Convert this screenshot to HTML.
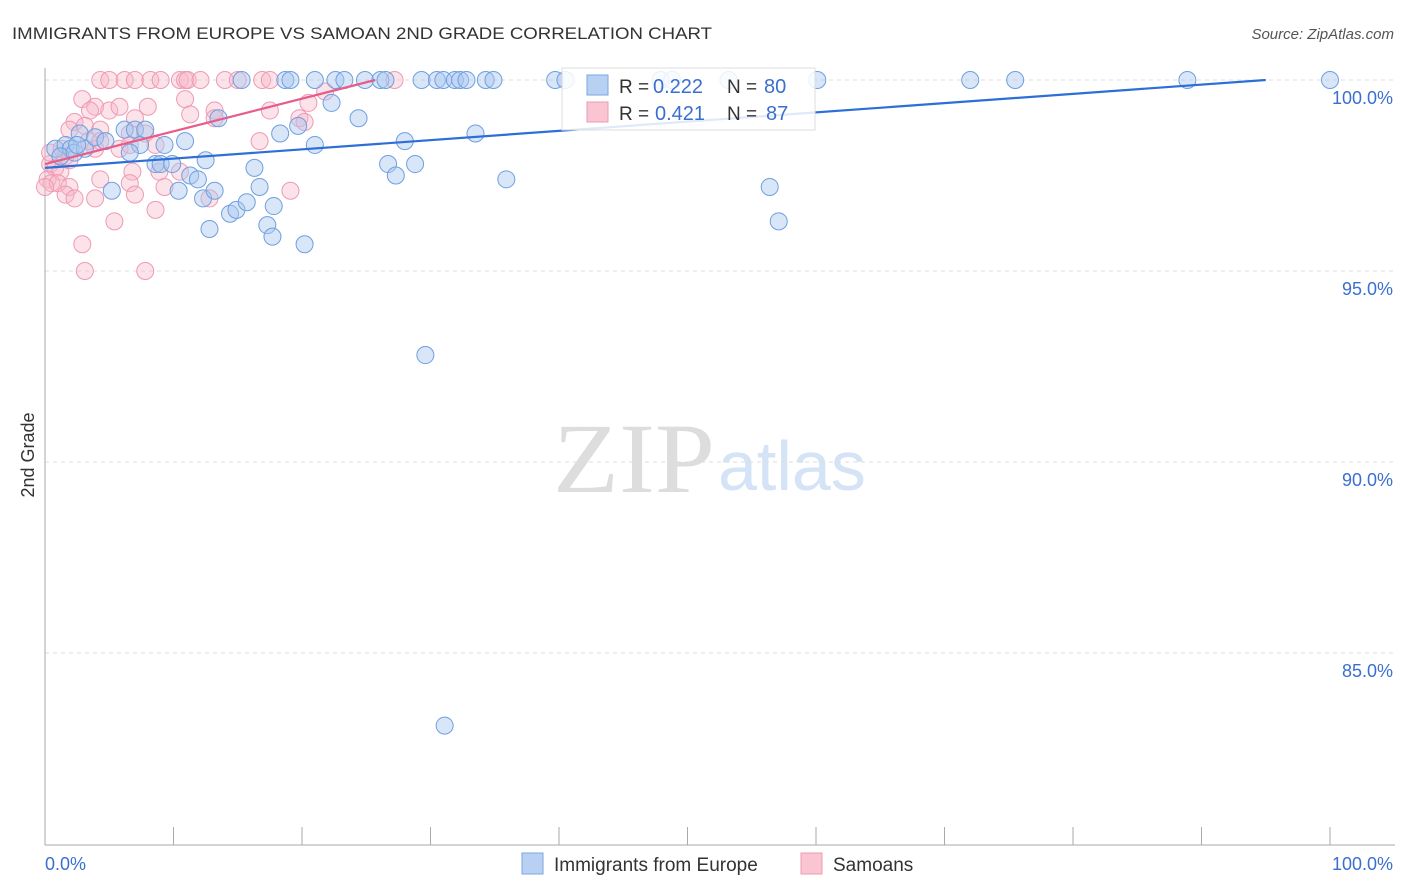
<!DOCTYPE html>
<html><head><meta charset="utf-8"><style>
body{margin:0;background:#fff;font-family:"Liberation Sans",sans-serif;}
svg{display:block}
</style></head><body>
<svg id="chart" width="1406" height="892" xmlns="http://www.w3.org/2000/svg">
<text x="12" y="39" font-size="17" fill="#333" textLength="700" lengthAdjust="spacingAndGlyphs">IMMIGRANTS FROM EUROPE VS SAMOAN 2ND GRADE CORRELATION CHART</text>
<text x="1394" y="39" font-size="15" fill="#555" font-style="italic" text-anchor="end">Source: ZipAtlas.com</text>
<text x="553" y="492" font-size="100" font-family="Liberation Serif,serif" fill="#ddd" textLength="162" lengthAdjust="spacingAndGlyphs">ZIP</text>
<text x="718" y="490" font-size="70" fill="#d4e3f6">atlas</text>
<text transform="translate(34,455) rotate(-90)" font-size="18" fill="#333" text-anchor="middle">2nd Grade</text>
<g id="grid"></g><g id="pts"></g><g id="lines"></g>
<g>
<rect x="562" y="68" width="253" height="62" fill="#fff" fill-opacity="0.85" stroke="#ddd"/>
<rect x="587" y="75" width="21" height="20" fill="#b8d1f3" stroke="#7aa6e0"/>
<rect x="587" y="102" width="21" height="20" fill="#f9c5d3" stroke="#ee9ab3"/>
<text x="619" y="93" font-size="19" fill="#333">R =</text>
<text x="653" y="93" font-size="20" fill="#3a6fd0">0.222</text>
<text x="727" y="93" font-size="19" fill="#333">N =</text>
<text x="764" y="93" font-size="20" fill="#3a6fd0">80</text>
<text x="619" y="120" font-size="19" fill="#333">R =</text>
<text x="655" y="120" font-size="20" fill="#3a6fd0">0.421</text>
<text x="727" y="120" font-size="19" fill="#333">N =</text>
<text x="766" y="120" font-size="20" fill="#3a6fd0">87</text>
</g>
<g>
<rect x="522" y="853" width="21" height="21" fill="#b8d1f3" stroke="#7aa6e0"/>
<text x="554" y="871" font-size="19" fill="#333">Immigrants from Europe</text>
<rect x="801" y="853" width="21" height="21" fill="#f9c5d3" stroke="#ee9ab3"/>
<text x="833" y="871" font-size="19" fill="#333">Samoans</text>
</g>
</svg>
<script>
const yTicks=[100,95,90,85];
const xTickLabels=["0.0%","100.0%"];
const blueX=[0.8,1.6,2,1.2,2.3,3.1,2.7,3.9,4.7,5.2,6.2,7,7.4,7.8,8.6,9,9.3,9.9,10.4,10.9,11.3,11.9,12.3,12.8,13.2,13.5,14.4,14.9,15.7,16.3,16.7,17.3,17.7,18.3,18.7,19.1,19.7,20.2,21,21,22.6,23.3,22.3,24.4,24.9,26.1,26.5,26.7,27.3,28,28.8,29.3,29.6,30.5,31,31.9,32.3,32.8,33.5,34.3,34.9,35.9,31.1,39.7,40.5,47.9,56.4,57.1,60.1,72,75.5,88.9,100,15.3,2.5,6.6,12.5,17.8,48.8,53.2];
const blueY=[98.2,98.3,98.2,98,98.1,98.2,98.6,98.5,98.4,97.1,98.7,98.7,98.3,98.7,97.8,97.8,98.3,97.8,97.1,98.4,97.5,97.4,96.9,96.1,97.1,99,96.5,96.6,96.8,97.7,97.2,96.2,95.9,98.6,100,100,98.8,95.7,98.3,100,100,100,99.4,99,100,100,100,97.8,97.5,98.4,97.8,100,92.8,100,100,100,100,100,98.6,100,100,97.4,83.1,100,100,100,97.2,96.3,100,100,100,100,100,100,98.3,98.1,97.9,96.7,100,100];
const pinkX=[4.3,5,6.2,7,8.2,9,10.5,10.9,11.1,12.1,14,15,16.9,17.5,27.2,2.9,3.9,3.5,5,5.8,8,10.9,13.2,11.3,17.5,20.5,21.8,19.8,20.2,2.3,1.9,3.1,4.3,6.6,7.8,3.9,5.8,6.6,8.6,1.6,0.4,0.8,1.2,0.2,0.5,1,0,1.9,1.6,2.3,3.9,4.3,6.8,6.6,8.9,9.3,10.5,7,8.6,12.8,19.1,5.4,2.9,3.1,7.8,0.4,1.3,1.9,3.4,4.3,7,16.7,13.2];
const pinkY=[100,100,100,100,100,100,100,100,100,100,100,100,100,100,100,99.5,99.3,99.2,99.2,99.3,99.3,99.5,99.2,99.1,99.2,99.4,99.7,99,98.9,98.9,98.7,98.8,98.7,98.6,98.6,98.2,98.2,98.3,98.3,98,97.8,97.7,97.6,97.4,97.3,97.3,97.2,97.2,97,96.9,96.9,97.4,97.6,97.3,97.6,97.2,97.6,97,96.6,96.9,97.1,96.3,95.7,95,95,98.1,98.2,97.9,98.4,98.4,99,98.4,99];
const blueTrend=[[0,97.7],[95,100]];
const pinkTrend=[[0,97.8],[25.7,100]];
const NS="http://www.w3.org/2000/svg";
const X=v=>45+v*12.85, Y=v=>80+(100-v)*38.2;
function mk(tag,attrs,parent){const e=document.createElementNS(NS,tag);for(const k in attrs)e.setAttribute(k,attrs[k]);parent.appendChild(e);return e;}
const grid=document.getElementById('grid');
for(const t of yTicks){
 const l=mk('line',{x1:45,x2:1395,y1:Y(t),y2:Y(t),stroke:'#ddd','stroke-dasharray':'4,4'},grid);
 
 
 const tx=mk('text',{x:1393,y:Y(t)+24,'font-size':18,fill:'#3a6fd0','text-anchor':'end'},grid);
 tx.textContent=t.toFixed(1)+'%';
 
 
}
const ax=mk('line',{x1:45,x2:45,y1:68,y2:845,stroke:'#aaa'},grid);


const bx=mk('line',{x1:45,x2:1395,y1:845,y2:845,stroke:'#aaa'},grid);


for(let i=0;i<=10;i++){const tk=mk('line',{x1:X(i*10),x2:X(i*10),y1:827,y2:845,stroke:'#aaa'},grid);
 
 }
xTickLabels.forEach((s,i)=>{const t=mk('text',{x:i?1393:45,y:870,'font-size':18,fill:'#3a6fd0','text-anchor':i?'end':'start'},grid);t.textContent=s;
 
 });
const pts=document.getElementById('pts');
pinkX.forEach((v,i)=>{const c=mk('circle',{cx:X(v),cy:Y(pinkY[i]),r:8.5,fill:'#f7b6c9','fill-opacity':0.4,stroke:'#ee9ab3','stroke-width':1},pts);
 
 });
blueX.forEach((v,i)=>{const c=mk('circle',{cx:X(v),cy:Y(blueY[i]),r:8.5,fill:'#a9c8f0','fill-opacity':0.45,stroke:'#6f9fe0','stroke-width':1},pts);
 
 });
const lines=document.getElementById('lines');
const bl=mk('line',{x1:X(blueTrend[0][0]),y1:Y(blueTrend[0][1]),x2:X(blueTrend[1][0]),y2:Y(blueTrend[1][1]),stroke:'#2c6fd6','stroke-width':2.2},lines);


const pl=mk('line',{x1:X(pinkTrend[0][0]),y1:Y(pinkTrend[0][1]),x2:X(pinkTrend[1][0]),y2:Y(pinkTrend[1][1]),stroke:'#e65c8a','stroke-width':2.2},lines);


</script>
</body></html>
